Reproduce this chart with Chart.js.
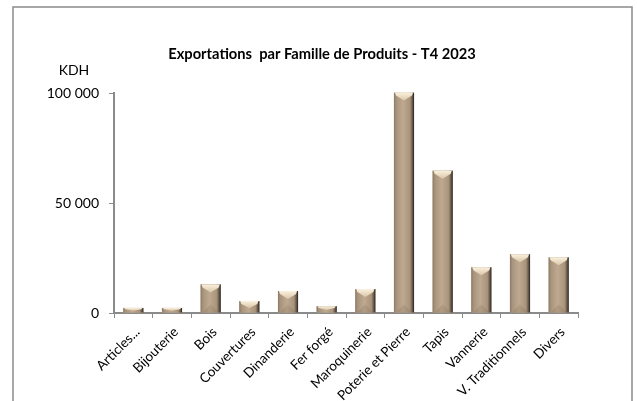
<!DOCTYPE html>
<html>
<head>
<meta charset="utf-8">
<script src="https://cdn.jsdelivr.net/npm/chart.js@4"></script>
<style>
html,body{margin:0;padding:0;background:#fff;}
#wrap{position:relative;width:637px;height:401px;}
</style>
</head>
<body>
<div id="wrap"><canvas id="c" width="637" height="401"></canvas></div>
<script>
const categories = ["Articles...", "Bijouterie", "Bois", "Couvertures", "Dinanderie", "Fer forgé", "Maroquinerie", "Poterie et Pierre", "Tapis", "Vannerie", "V. Traditionnels", "Divers"];
const exportValues = [2300, 2300, 13000, 5400, 10000, 3100, 10900, 100200, 64700, 20800, 26700, 25300];
const yTickValues = [0, 50000, 100000];
const chartTitle = "Exportations  par Famille de Produits - T4 2023";
const yUnit = "KDH";

function fmt(v){ return String(v).replace(/\B(?=(\d{3})+(?!\d))/g, " "); }

const decor = {
  id: 'decor',
  beforeDraw(chart){
    const ctx = chart.ctx;
    ctx.save();
    ctx.fillStyle = '#fff';
    ctx.fillRect(0,0,chart.width,chart.height);
    ctx.strokeStyle = '#8a8a8a';
    ctx.lineWidth = 1.5;
    ctx.strokeRect(13, 7, 619, 460);
    ctx.restore();
  },
  afterDatasetsDraw(chart){
    const ctx = chart.ctx;
    const meta = chart.getDatasetMeta(0);
    meta.data.forEach(bar => {
      const p = bar.getProps(['x','y','base','width'], true);
      const l = p.x - p.width/2, r = p.x + p.width/2, t = p.y, b = p.base;
      const h = b - t;
      ctx.save();
      const g = ctx.createLinearGradient(l, 0, r, 0);
      g.addColorStop(0, '#8c7a66');
      g.addColorStop(0.12, '#a8947d');
      g.addColorStop(0.45, '#bfa990');
      g.addColorStop(0.8, '#a8937b');
      g.addColorStop(0.92, '#66574a');
      g.addColorStop(1, '#231e1a');
      ctx.fillStyle = g;
      ctx.fillRect(l, t, p.width, h);
      // top bevel
      const d = Math.min(8, h * 0.6);
      const e = Math.min(3, h * 0.3);
      const tg = ctx.createLinearGradient(0, t, 0, t + d);
      tg.addColorStop(0, '#fbf1de');
      tg.addColorStop(1, '#d9c6a8');
      ctx.fillStyle = tg;
      ctx.beginPath();
      ctx.moveTo(l + 1, t);
      ctx.lineTo(r - 1, t);
      ctx.lineTo(r - 2, t + e);
      ctx.lineTo(p.x, t + d);
      ctx.lineTo(l + 2, t + e);
      ctx.closePath();
      ctx.fill();
      // bottom subtle bevel
      if (h > 20) {
        ctx.fillStyle = 'rgba(90,75,60,0.14)';
        ctx.beginPath();
        ctx.moveTo(l + 2, b);
        ctx.lineTo(r - 2, b);
        ctx.lineTo(p.x, b - 8);
        ctx.closePath();
        ctx.fill();
      }
      ctx.restore();
    });
    // title & unit
    ctx.save();
    ctx.fillStyle = '#000';
    ctx.textBaseline = 'middle';
    ctx.textAlign = 'center';
    ctx.font = 'bold 14.7px Lato';
    ctx.fillText(chartTitle, 322, 54);
    ctx.font = '14px Lato';
    ctx.fillText(yUnit, 74, 70);
    ctx.restore();
  }
};

new Chart(document.getElementById('c'), {
  type: 'bar',
  data: {
    labels: categories,
    datasets: [{
      data: exportValues,
      backgroundColor: '#b9a48c',
      borderWidth: 0,
      barPercentage: 0.52,
      categoryPercentage: 1.0
    }]
  },
  options: {
    responsive: false,
    animation: false,
    events: [],
    layout: { padding: { top: 93, right: 59, left: 0, bottom: 0 } },
    plugins: { legend: { display: false }, title: { display: false }, tooltip: { enabled: false } },
    scales: {
      x: {
        afterFit(s){ s.height = 88; },
        grid: { display: true, drawOnChartArea: false, drawTicks: true, tickLength: 5, color: '#8a8a8a', offset: true },
        border: { display: true, color: '#8a8a8a', width: 2 },
        ticks: { color: '#000', font: { family: 'Lato', size: 13.5 }, minRotation: 45, maxRotation: 45, padding: 6, labelOffset: 4, autoSkip: false }
      },
      y: {
        min: 0, max: 100000,
        afterFit(s){ s.width = 114; },
        afterBuildTicks(s){ s.ticks = yTickValues.map(v => ({ value: v })); },
        grid: { display: true, drawOnChartArea: false, drawTicks: true, tickLength: 5, color: '#8a8a8a' },
        border: { display: true, color: '#8a8a8a', width: 2 },
        ticks: { color: '#000', font: { family: 'Lato', size: 14 }, padding: 10, callback: v => fmt(v) }
      }
    }
  },
  plugins: [decor]
});
</script>
</body>
</html>
